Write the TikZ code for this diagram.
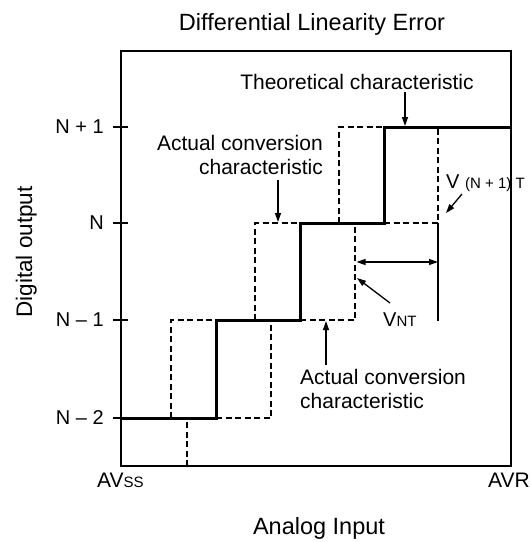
\documentclass[tikz,border=0pt]{standalone}
\usepackage{fontspec}
\setmainfont{Liberation Sans}
\usetikzlibrary{arrows.meta}
\begin{document}
\begin{tikzpicture}[x=1pt,y=-1pt,
  frame/.style={line width=1.4pt},
  theo/.style={line width=3pt, line join=miter},
  act/.style={line width=2.5pt, dash pattern=on 6pt off 3.5pt},
  thinline/.style={line width=1.3pt},
  arr/.style={line width=1.3pt,-{Triangle[length=9pt,width=6pt]}},
  dimarr/.style={line width=1.3pt,{Triangle[length=9pt,width=6pt]}-{Triangle[length=9pt,width=6pt]}},
  lbl/.style={font=\fontsize{21}{24}\selectfont, inner sep=0pt},
  lvl/.style={font=\fontsize{20}{24}\selectfont, inner sep=0pt, anchor=east},
  big/.style={font=\fontsize{23.5}{28}\selectfont, inner sep=0pt},
]
\useasboundingbox (0,0) rectangle (531,542);

% frame
\coordinate (bl) at (121,466);
\coordinate (tr) at (511,51);
\draw[frame] (bl) rectangle (tr);

% ticks and level labels
\foreach \yy/\tt/\nm in {127/{N + 1}/p, 223/{N}/z, 320/{N -- 1}/m, 418/{N -- 2}/mm}{
  \draw[thinline] (113,\yy) -- (128,\yy);
  \node[lvl] (lev\nm) at (104,\yy) {\tt};
}

% theoretical characteristic
\draw[theo] (121,418) -- (216,418) -- (216,320) -- (300,320) -- (300,223)
  -- (384,223) -- (384,127) -- (511,127);

% actual conversion characteristic (dashed)
\draw[act] (187,466) -- (187,418);
\draw[act] (171,418) -- (171,320) -- (216,320);
\draw[act] (216,418) -- (271,418) -- (271,320);
\draw[act] (255,320) -- (255,223) -- (300,223);
\draw[act] (300,320) -- (355,320) -- (355,223);
\draw[act] (339,223) -- (339,127) -- (384,127);
\draw[act] (384,223) -- (438,223) -- (438,127);

% VNT dimension
\coordinate (dimL) at (356.5,262);
\coordinate (dimR) at (438,262);
\coordinate (refTop) at (438,223);
\coordinate (refBot) at (438,321);
\draw[thinline] (refTop) -- (refBot);
\draw[dimarr] (dimL) -- (dimR);

% labels
\node[big, anchor=base] (title) at (312,30) {Differential Linearity Error};
\node[big, anchor=base] (xlab) at (319,534) {Analog Input};
\node[big, anchor=base, rotate=90, font=\fontsize{22.5}{27}\selectfont] (ylab) at (32,252) {Digital output};
\node[lbl, anchor=base west] (avss) at (97,487) {AV{\fontsize{15}{18}\selectfont SS}};
\node[lbl, anchor=base east] (avr) at (530,487) {AVR};

\node[lbl] (theolbl) at (357,82) {Theoretical characteristic};
\coordinate (theoS) at (405,92);
\coordinate (theoE) at (405,126);
\draw[arr] (theoS) -- (theoE);

\node[lbl, anchor=north east, align=right] (act1) at (323,135.5) {Actual conversion\\characteristic};
\coordinate (act1S) at (278,180);
\coordinate (act1E) at (278,222);
\draw[arr] (act1S) -- (act1E);

\node[lbl, anchor=north west, align=left] (act2) at (300,369.5) {Actual conversion\\characteristic};
\coordinate (act2S) at (326,365);
\coordinate (act2E) at (326,321);
\draw[arr] (act2S) -- (act2E);

\node[lbl, anchor=base west, font=\fontsize{20}{24}\selectfont] (vnt) at (383,326) {V{\fontsize{15}{18}\selectfont NT}};
\coordinate (vntS) at (390,303);
\coordinate (vntE) at (357,278);
\draw[arr] (vntS) -- (vntE);

\node[lbl, anchor=base west, font=\fontsize{20}{24}\selectfont] (vn1t) at (446,188) {V {\fontsize{15}{18}\selectfont(N + 1) T}};
\coordinate (vn1tS) at (462,194);
\coordinate (vn1tE) at (446,213);
\draw[arr] (vn1tS) -- (vn1tE);
\end{tikzpicture}
\end{document}
